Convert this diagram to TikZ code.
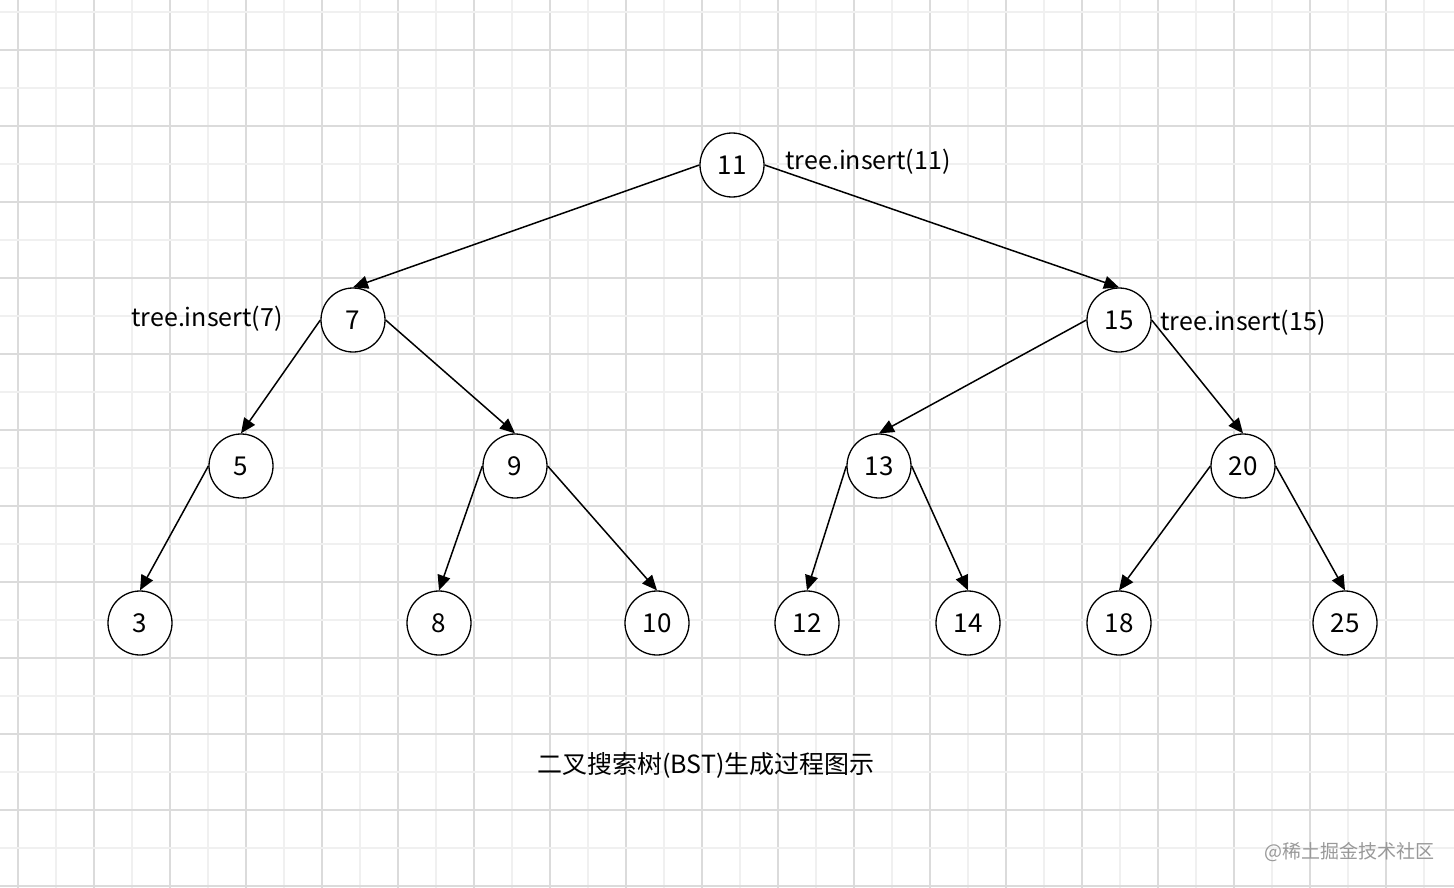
\documentclass[tikz,border=0pt]{standalone}
\usepackage{fontspec}
\setmainfont{Noto Sans CJK SC}
\usetikzlibrary{arrows.meta}
\begin{document}
\begin{tikzpicture}[x=1pt,y=-1pt,
  nd/.style={circle,draw,line width=1.3pt,minimum size=64pt,inner sep=0pt,font=\fontsize{26}{30}\selectfont},
  ed/.style={line width=1.5pt,-{Triangle[length=15pt,width=13pt]}},
  lb/.style={font=\fontsize{25}{29}\selectfont}]
\fill[white] (0,0) rectangle (1454,888);
\useasboundingbox (0,0) rectangle (1454,888);
\foreach \i in {0,...,37} {
  \pgfmathsetmacro\xx{18+38*\i}
  \ifodd\i \def\gc{black!6}\else\def\gc{black!14}\fi
  \draw[\gc,line width=1.3pt] (\xx,0) -- (\xx,888);
}
\foreach \i in {0,...,23} {
  \pgfmathsetmacro\yy{12+38*\i}
  \ifodd\i \def\gc{black!14}\else\def\gc{black!6}\fi
  \draw[\gc,line width=1.3pt] (0,\yy) -- (1454,\yy);
}
\node[nd,fill=white] (n11) at (732,165) {11};
\node[nd,fill=white] (n7) at (353,320) {7};
\node[nd,fill=white] (n15) at (1119,320) {15};
\node[nd,fill=white] (n5) at (241,466) {5};
\node[nd,fill=white] (n9) at (515,466) {9};
\node[nd,fill=white] (n13) at (879,466) {13};
\node[nd,fill=white] (n20) at (1243,466) {20};
\node[nd,fill=white] (n3) at (140,623) {3};
\node[nd,fill=white] (n8) at (439,623) {8};
\node[nd,fill=white] (n10) at (657,623) {10};
\node[nd,fill=white] (n12) at (807,623) {12};
\node[nd,fill=white] (n14) at (968,623) {14};
\node[nd,fill=white] (n18) at (1119,623) {18};
\node[nd,fill=white] (n25) at (1345,623) {25};
\draw[ed] (n11.west) -- (n7.north);
\draw[ed] (n11.east) -- (n15.north);
\draw[ed] (n7.west) -- (n5.north);
\draw[ed] (n7.east) -- (n9.north);
\draw[ed] (n15.west) -- (n13.north);
\draw[ed] (n15.east) -- (n20.north);
\draw[ed] (n5.west) -- (n3.north);
\draw[ed] (n9.west) -- (n8.north);
\draw[ed] (n9.east) -- (n10.north);
\draw[ed] (n13.west) -- (n12.north);
\draw[ed] (n13.east) -- (n14.north);
\draw[ed] (n20.west) -- (n18.north);
\draw[ed] (n20.east) -- (n25.north);
\node[lb] (l11) at (868,162) {tree.insert(11)};
\node[lb] (l7) at (207,319) {tree.insert(7)};
\node[lb] (l15) at (1243,323) {tree.insert(15)};
\node[lb] (cap) at (706,765) {二叉搜索树(BST)生成过程图示};
\node[font=\fontsize{19}{22}\selectfont,text=black!40] (wm) at (1349,852) {@稀土掘金技术社区};
\end{tikzpicture}
\end{document}
